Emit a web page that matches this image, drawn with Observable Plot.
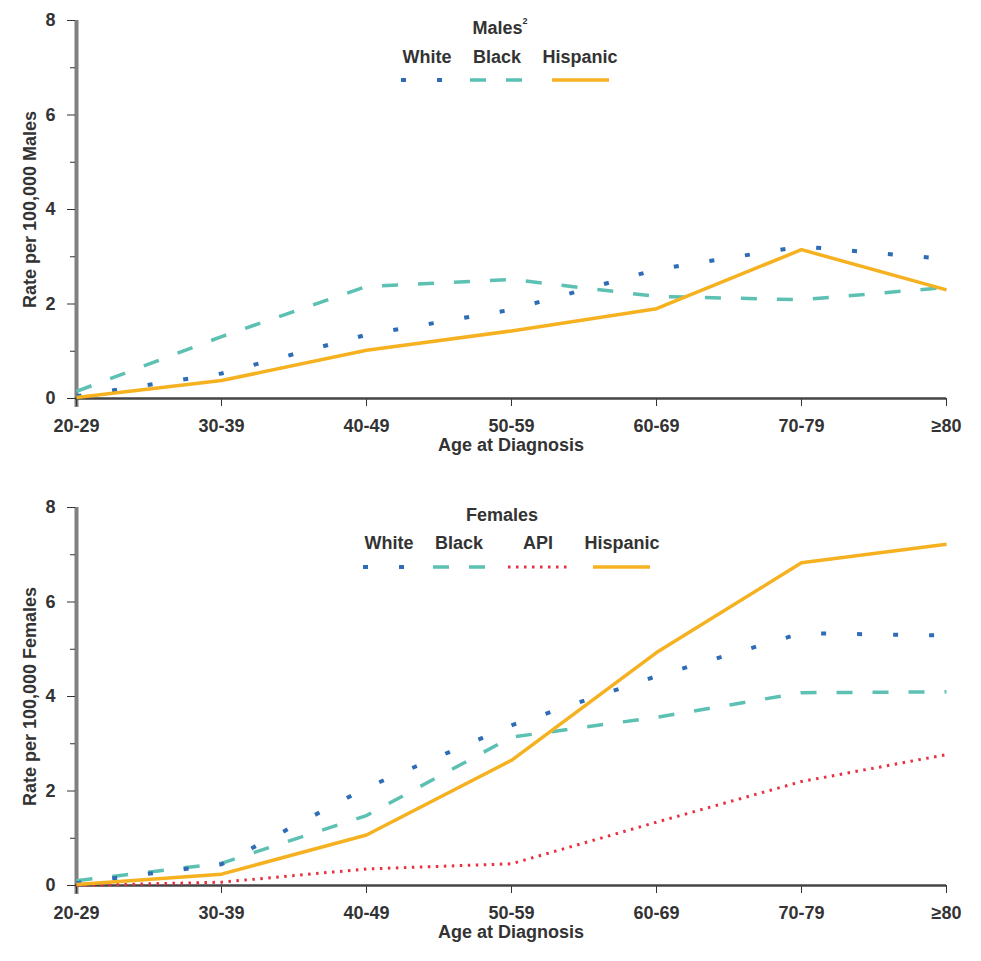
<!DOCTYPE html>
<html>
<head>
<meta charset="utf-8">
<script src="https://cdn.jsdelivr.net/npm/d3@7"></script>
<script src="https://cdn.jsdelivr.net/npm/@observablehq/plot@0.6"></script>
<style>
  html, body { margin: 0; padding: 0; background: #fff; }
  #wrap { position: relative; width: 981px; height: 961px; font-family: "Liberation Sans", Arial, sans-serif; }
  #wrap svg { display: block; }
  .legend { position: absolute; left: 0; top: 0; pointer-events: none; }
</style>
</head>
<body>
<div id="wrap"></div>
<script>
// ---- data ----
const ages = ["20-29", "30-39", "40-49", "50-59", "60-69", "70-79", "≥80"];
const maleWhite    = [0.05, 0.53, 1.35, 1.88, 2.73, 3.22, 2.95];
const maleBlack    = [0.15, 1.31, 2.37, 2.52, 2.16, 2.09, 2.35];
const maleHispanic = [0.02, 0.38, 1.02, 1.43, 1.90, 3.15, 2.30];
const femaleWhite    = [0.05, 0.45, 2.07, 3.39, 4.43, 5.34, 5.29];
const femaleBlack    = [0.10, 0.47, 1.48, 3.14, 3.56, 4.08, 4.10];
const femaleAPI      = [0.00, 0.07, 0.35, 0.46, 1.34, 2.20, 2.77];
const femaleHispanic = [0.02, 0.24, 1.07, 2.65, 4.93, 6.83, 7.22];
const yMajor = [0, 2, 4, 6, 8];
const yMinor = [1, 3, 5, 7];

const FS = 18;
const styles = {
  White:    {stroke: "#2e6cb5", strokeWidth: 4,   strokeDasharray: "5 31"},
  Black:    {stroke: "#5cc0b3", strokeWidth: 3.5, strokeDasharray: "16 20"},
  API:      {stroke: "#e8303f", strokeWidth: 3,   strokeDasharray: "2.5 5.5"},
  Hispanic: {stroke: "#f5b120", strokeWidth: 3.5}
};

function rows(vals) { return ages.map((a, i) => ({age: a, rate: vals[i]})); }

function makeChart(series, {height, marginTop, marginBottom, ylabel}) {
  const lines = series.map(([name, vals]) =>
    Plot.line(rows(vals), {x: "age", y: "rate", ...styles[name], strokeLinecap: "butt", strokeLinejoin: "round"}));
  return Plot.plot({
    width: 981,
    height,
    marginTop,
    marginBottom,
    marginLeft: 75,
    marginRight: 35,
    style: {fontFamily: "'Liberation Sans', Arial, sans-serif", fontWeight: "bold", fontSize: FS + "px", color: "#333", background: "#fff", overflow: "visible"},
    x: {type: "point", domain: ages, padding: 0},
    y: {domain: [0, 8]},
    marks: [
      Plot.ruleX([ages[0]], {stroke: "#808080", strokeWidth: 4, insetBottom: -9}),
      Plot.axisY({ticks: yMajor, tickSize: 8, tickPadding: 12, label: null, tickFormat: d => String(d), fontSize: FS}),
      Plot.axisY({ticks: yMinor, tickSize: 5, fill: "none", label: null}),
      Plot.axisX({tickSize: 8, tickPadding: 13, label: null, fontSize: FS}),
      Plot.ruleY([0], {stroke: "#444", strokeWidth: 2.5}),
      ...lines,
      Plot.text([ylabel], {frameAnchor: "left", textAnchor: "middle", dx: -45, rotate: -90, text: d => d, fontSize: FS, fontWeight: "bold", fill: "#333"}),
      Plot.text(["Age at Diagnosis"], {frameAnchor: "bottom", dy: 52, text: d => d, fontSize: FS, fontWeight: "bold", fill: "#333"})
    ]
  });
}

const wrap = document.getElementById("wrap");
const chartMales = makeChart(
  [["Black", maleBlack], ["White", maleWhite], ["Hispanic", maleHispanic]],
  {height: 470, marginTop: 20, marginBottom: 72, ylabel: "Rate per 100,000 Males"});
const chartFemales = makeChart(
  [["API", femaleAPI], ["Black", femaleBlack], ["White", femaleWhite], ["Hispanic", femaleHispanic]],
  {height: 491, marginTop: 37, marginBottom: 76, ylabel: "Rate per 100,000 Females"});
wrap.appendChild(chartMales);
wrap.appendChild(chartFemales);

// ---- legends (overlay) ----
const NS = "http://www.w3.org/2000/svg";
const leg = document.createElementNS(NS, "svg");
leg.setAttribute("class", "legend");
leg.setAttribute("width", 981);
leg.setAttribute("height", 961);
wrap.appendChild(leg);
function txt(x, y, s, sup) {
  const t = document.createElementNS(NS, "text");
  t.setAttribute("x", x); t.setAttribute("y", y);
  t.setAttribute("text-anchor", "middle");
  t.setAttribute("dominant-baseline", "central");
  t.setAttribute("font-family", "'Liberation Sans', Arial, sans-serif");
  t.setAttribute("font-weight", "bold");
  t.setAttribute("font-size", FS);
  t.setAttribute("fill", "#333");
  t.textContent = s;
  if (sup) {
    const ts = document.createElementNS(NS, "tspan");
    ts.setAttribute("font-size", 9);
    ts.setAttribute("dy", -7);
    ts.textContent = sup;
    t.appendChild(ts);
  }
  leg.appendChild(t);
}
function sw(x1, x2, y, name) {
  const l = document.createElementNS(NS, "line");
  l.setAttribute("x1", x1); l.setAttribute("x2", x2);
  l.setAttribute("y1", y); l.setAttribute("y2", y);
  const s = styles[name];
  l.setAttribute("stroke", s.stroke);
  l.setAttribute("stroke-width", s.strokeWidth);
  if (s.strokeDasharray) l.setAttribute("stroke-dasharray", s.strokeDasharray);
  leg.appendChild(l);
}
// Males legend
txt(500, 28, "Males", "2");
txt(427, 57, "White"); txt(497, 57, "Black"); txt(580, 57, "Hispanic");
sw(401, 446, 80, "White"); sw(470, 523, 80, "Black"); sw(552, 609, 80, "Hispanic");
// Females legend
txt(502, 515, "Females");
txt(389, 543, "White"); txt(459, 543, "Black"); txt(538, 543, "API"); txt(622, 543, "Hispanic");
sw(363, 408, 567, "White"); sw(433, 486, 567, "Black"); sw(508, 567, 567, "API"); sw(593, 650, 567, "Hispanic");
</script>
</body>
</html>
